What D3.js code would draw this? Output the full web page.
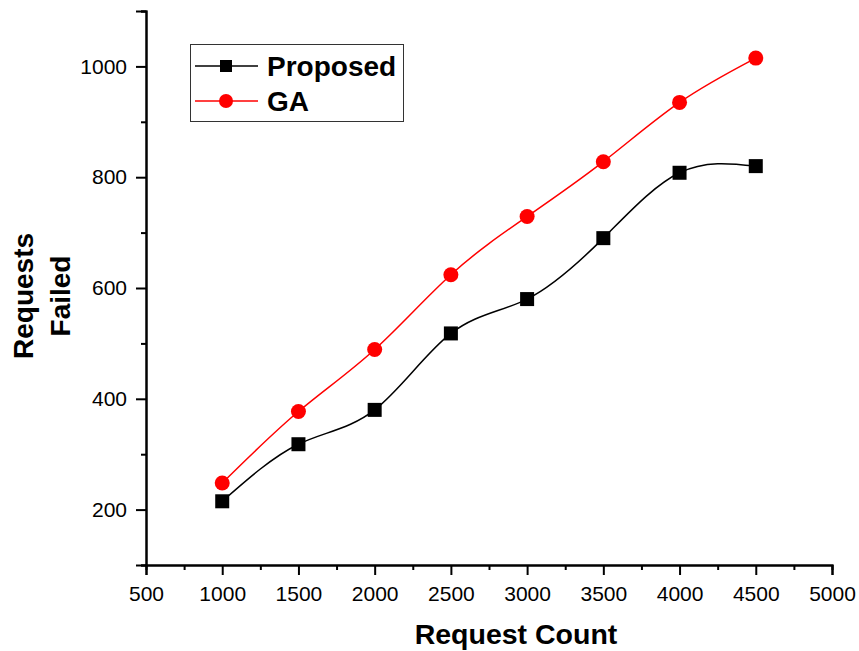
<!DOCTYPE html>
<html>
<head>
<meta charset="utf-8">
<script src="https://cdn.jsdelivr.net/npm/d3@7"></script>
<style>
  body { margin: 0; background: #fff; }
  svg { display: block; font-family: "Liberation Sans", Arial, sans-serif; }
</style>
</head>
<body>
<svg id="chart" width="859" height="651"></svg>
<script>
// Request counts on the x axis
const requestCounts = [1000, 1500, 2000, 2500, 3000, 3500, 4000, 4500];
// Failed requests for each method
const proposedFailed = [215, 318, 380, 518, 580, 690, 808, 820];
const gaFailed = [248, 377, 489, 624, 729, 828, 935, 1015];

const xMajorTicks = [500, 1000, 1500, 2000, 2500, 3000, 3500, 4000, 4500, 5000];
const xMinorTicks = [750, 1250, 1750, 2250, 2750, 3250, 3750, 4250, 4750];
const yMajorTicks = [200, 400, 600, 800, 1000];
const yMinorTicks = [100, 300, 500, 700, 900, 1100];

const seriesNames = ["Proposed", "GA"];
const seriesColors = ["#000000", "#ff0000"];

const svg = d3.select("#chart");
const plotLeft = 146, plotRight = 832, plotTop = 11, plotBottom = 565;

const x = d3.scaleLinear().domain([500, 5000]).range([plotLeft, plotRight]);
const y = d3.scaleLinear().domain([100, 1100]).range([plotBottom, plotTop]);

// Axes: major ticks with labels, minor ticks without
const xAxis = d3.axisBottom(x).tickValues(xMajorTicks).tickSize(10).tickPadding(11).tickFormat(d3.format("d"));
const xMinor = d3.axisBottom(x).tickValues(xMinorTicks).tickSize(5).tickFormat("");
const yAxis = d3.axisLeft(y).tickValues(yMajorTicks).tickSize(10).tickPadding(9).tickFormat(d3.format("d"));
const yMinor = d3.axisLeft(y).tickValues(yMinorTicks).tickSize(5).tickFormat("");

function styleAxis(g) {
  g.select(".domain").attr("stroke", "#000").attr("stroke-width", 2);
  g.selectAll(".tick line").attr("stroke", "#000").attr("stroke-width", 2);
  g.selectAll(".tick text").attr("font-size", 21).attr("fill", "#000")
    .attr("font-family", "'Liberation Sans', Arial, sans-serif");
}

svg.append("g").attr("transform", `translate(0,${plotBottom})`).call(xMinor).call(styleAxis);
svg.append("g").attr("transform", `translate(0,${plotBottom})`).call(xAxis).call(styleAxis);
svg.append("g").attr("transform", `translate(${plotLeft},0)`).call(yMinor).call(styleAxis);
svg.append("g").attr("transform", `translate(${plotLeft},0)`).call(yAxis).call(styleAxis);

// Axis titles
svg.append("text")
  .attr("x", (plotLeft + plotRight) / 2 + 27).attr("y", 644)
  .attr("text-anchor", "middle")
  .attr("font-size", 28.5).attr("font-weight", "bold")
  .text("Request Count");

const yTitle = svg.append("text")
  .attr("transform", "translate(0,296) rotate(-90)")
  .attr("text-anchor", "middle")
  .attr("font-size", 28).attr("font-weight", "bold");
yTitle.append("tspan").attr("x", 0).attr("y", 33).text("Requests");
yTitle.append("tspan").attr("x", 0).attr("y", 70).text("Failed");

// Series lines and markers
const line = d3.line()
  .x((d, i) => x(requestCounts[i]))
  .y(d => y(d))
  .curve(d3.curveNatural);

const allSeries = [proposedFailed, gaFailed];

allSeries.forEach((vals, s) => {
  svg.append("path")
    .datum(vals)
    .attr("d", line)
    .attr("fill", "none")
    .attr("stroke", seriesColors[s])
    .attr("stroke-width", 1.5);
});

// Proposed: square markers
svg.selectAll(".sq").data(proposedFailed).enter().append("rect")
  .attr("x", (d, i) => x(requestCounts[i]) - 7)
  .attr("y", d => y(d) - 7)
  .attr("width", 14).attr("height", 14)
  .attr("fill", seriesColors[0]);

// GA: circle markers
svg.selectAll(".ci").data(gaFailed).enter().append("circle")
  .attr("cx", (d, i) => x(requestCounts[i]))
  .attr("cy", d => y(d))
  .attr("r", 7.5)
  .attr("fill", seriesColors[1]);

// Legend
const legend = svg.append("g");
legend.append("rect")
  .attr("x", 190.5).attr("y", 44.5).attr("width", 213).attr("height", 77)
  .attr("fill", "#fff").attr("stroke", "#333").attr("stroke-width", 1);

seriesNames.forEach((name, s) => {
  const cy = 66 + s * 35;
  legend.append("line")
    .attr("x1", 195).attr("x2", 258).attr("y1", cy).attr("y2", cy)
    .attr("stroke", seriesColors[s]).attr("stroke-width", 1.5);
  if (s === 0) {
    legend.append("rect").attr("x", 220).attr("y", cy - 6).attr("width", 12).attr("height", 12)
      .attr("fill", seriesColors[s]);
  } else {
    legend.append("circle").attr("cx", 226).attr("cy", cy).attr("r", 7)
      .attr("fill", seriesColors[s]);
  }
  legend.append("text")
    .attr("x", 267).attr("y", cy + 10)
    .attr("font-size", 28).attr("font-weight", "bold")
    .text(name);
});
</script>
</body>
</html>
